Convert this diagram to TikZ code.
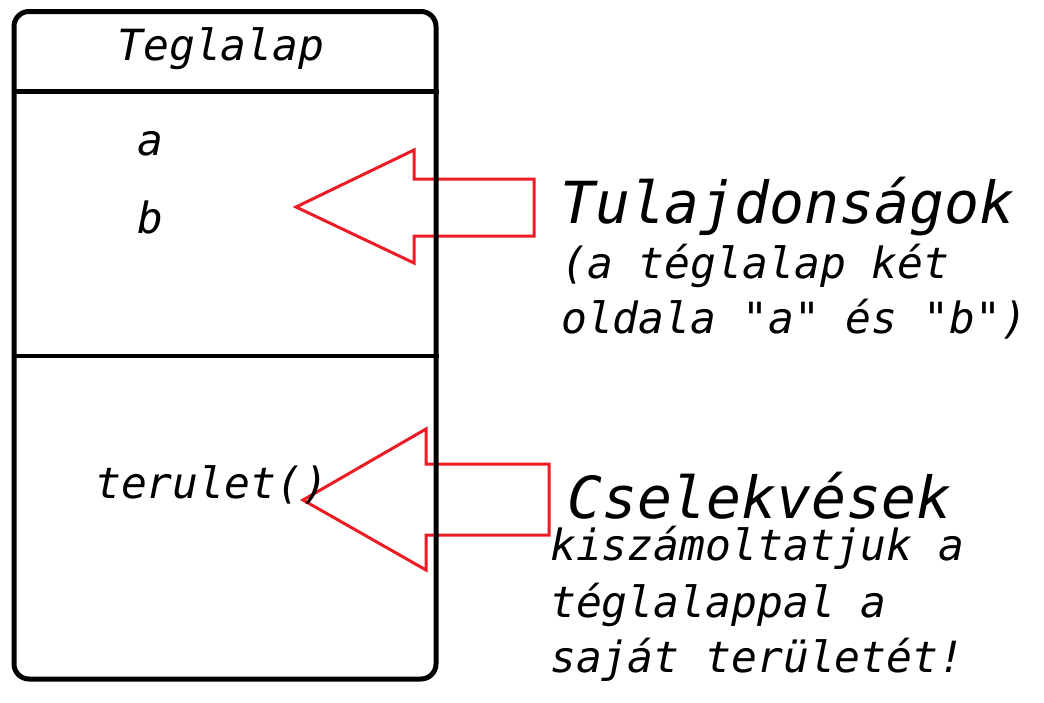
\documentclass[tikz,border=0pt]{standalone}
\usepackage{fontspec}
\newfontfamily\monoit{DejaVu Sans Mono}
\definecolor{arrowred}{RGB}{237,28,36}
\begin{document}
\begin{tikzpicture}[x=1pt,y=-1pt,
  txt/.style={inner sep=0pt, font=\monoit\itshape\fontsize{43}{50}\selectfont},
  bigtxt/.style={inner sep=0pt, text depth=0pt, font=\monoit\itshape\fontsize{58}{66}\selectfont},
  redarrow/.style={draw=arrowred, line width=3pt, line join=miter},
  divider/.style={line width=5pt}]
\useasboundingbox (0,0) rectangle (1044,702);
% arrows (drawn first, box lines on top)
\draw[redarrow] (296,207) -- (414,150) -- (414,179) -- (534,179) -- (534,236) -- (414,236) -- (414,263) -- cycle;
\draw[redarrow] (303,500) -- (426,429) -- (426,464) -- (549,464) -- (549,535) -- (426,535) -- (426,570) -- cycle;
% class box
\node[draw, line width=5pt, rounded corners=15pt, minimum width=422pt, minimum height=667.5pt, inner sep=0pt] (box) at (225,345.25) {};
\coordinate (d1) at (0,91);
\coordinate (d2) at (0,356);
\draw[divider] (box.west |- d1) -- (box.east |- d1);
\draw[divider, line width=3.2pt] (box.west |- d2) -- (box.east |- d2);
% texts in box
\node[txt, anchor=base] (name) at (221,60) {Teglalap};
\node[txt, anchor=base west] (attra) at (137,155) {a};
\node[txt, anchor=base west] (attrb) at (137,233) {b};
\node[txt, anchor=base west] (meth) at (95,498) {terulet()};
% descriptions
\node[bigtxt, anchor=base west] (t1) at (560,223) {Tulajdonságok};
\node[txt, anchor=base west] (t2) at (561,278) {(a téglalap két};
\node[txt, anchor=base west] (t3) at (561,333) {oldala "a" és "b")};
\node[bigtxt, anchor=base west] (c1) at (567,518) {Cselekvések};
\node[txt, anchor=base west] (c2) at (550,560) {kiszámoltatjuk a};
\node[txt, anchor=base west] (c3) at (550,617) {téglalappal a};
\node[txt, anchor=base west] (c4) at (550,672) {saját területét!};
\end{tikzpicture}
\end{document}
